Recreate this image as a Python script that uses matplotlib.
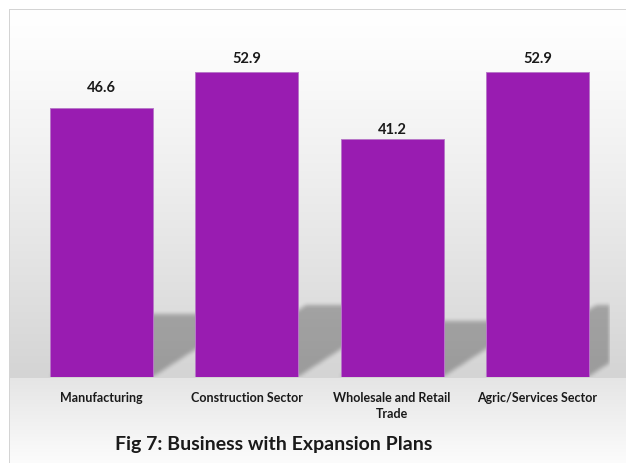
import numpy as np
import matplotlib.pyplot as plt

categories = ["Manufacturing", "Construction Sector",
              "Wholesale and Retail\nTrade", "Agric/Services Sector"]
values = [46.6, 52.9, 41.2, 52.9]
value_labels = ["46.6", "52.9", "41.2", "52.9"]
title = "Fig 7: Business with Expansion Plans"

# gap between each bar top and its value label, in pixels
label_gaps = [16, 9, 5, 9]

BAR_COLOR = "#991cb1"
W, H = 626, 463

plt.rcParams["font.family"] = ["Lato", "DejaVu Sans"]


def box_blur(a, r):
    k = np.ones(2 * r + 1) / (2 * r + 1)
    a = np.apply_along_axis(lambda m: np.convolve(m, k, mode="same"), 0, a)
    a = np.apply_along_axis(lambda m: np.convolve(m, k, mode="same"), 1, a)
    return a


fig = plt.figure(figsize=(W / 100, H / 100), dpi=100)

# plot box in pixels (floor line = bar baseline)
box_l, box_t = 9, 9
plot_r, floor = 610, 377
bar_step, first_center = 145.3, 101.5

# background: white page, grey wall gradient and lighter floor
bg = np.full((H, W), 255.0)
rows = np.arange(H)
wall = 255 - 43 * ((rows - box_t) / (floor - box_t)).clip(0, 1) ** 1.2
flr = 229 + 23 * ((rows - floor) / (H - floor)).clip(0, 1)
col = np.where(rows <= floor, wall, flr)
bg[box_t:, box_l:] = col[box_t:, None]
bg[box_t, box_l:] = 212
bg[box_t:, box_l] = 212
bg_ax = fig.add_axes([0, 0, 1, 1], zorder=0)
bg_ax.imshow(np.dstack([bg, bg, bg]) / 255, aspect="auto", interpolation="nearest")
bg_ax.axis("off")

ax = fig.add_axes([box_l / W, 1 - floor / H, (plot_r - box_l) / W, (floor - box_t) / H],
                  zorder=1)
ax.patch.set_alpha(0)
xlim = ((box_l - first_center) / bar_step, (plot_r - first_center) / bar_step)
ymax = (floor - box_t) / 5.766
ax.set_xlim(*xlim)
ax.set_ylim(0, ymax)
ax.axis("off")

x = np.arange(len(values))
width = 0.71

# soft perspective shadow cast by each bar onto the back wall
nx, ny = plot_r - box_l, floor - box_t
gx = np.linspace(xlim[0], xlim[1], nx)[None, :]
gy = np.linspace(ymax, 0, ny)[:, None]
mask = np.zeros((ny, nx))
for i, v in zip(x, values):
    hs = 0.235 * v
    dx = 0.01444 * v
    shift = dx * gy / hs
    inside = (gy <= hs) & (gx >= i - width / 2 + shift) & (gx <= i + width / 2 + shift)
    mask = np.maximum(mask, inside.astype(float))
mask = box_blur(box_blur(mask, 2), 2)
shadow = np.zeros((ny, nx, 4))
shadow[..., 3] = mask * 0.27
ax.imshow(shadow, extent=(xlim[0], xlim[1], 0, ymax), aspect="auto",
          origin="upper", zorder=1)

ax.bar(x, values, width, color=BAR_COLOR, edgecolor="#b878c8", linewidth=0.7, zorder=3)

for i, v in enumerate(values):
    ax.annotate(value_labels[i], (i, v), xytext=(0, label_gaps[i]),
                textcoords="offset pixels", ha="center", va="baseline",
                fontsize=10.5, fontweight="bold", color="#1a1a1a", zorder=4)

for i, cat in enumerate(categories):
    ax.annotate(cat, (i, 0), xytext=(0, -15), textcoords="offset pixels",
                ha="center", va="top", fontsize=9, fontweight="bold",
                color="#1a1a1a", linespacing=1.35, annotation_clip=False)

fig.text(274 / W, 1 - 450 / H, title, ha="center", va="baseline",
         fontsize=14, fontweight="bold", color="#1a1a1a")

fig.savefig("out.png", dpi=100)
